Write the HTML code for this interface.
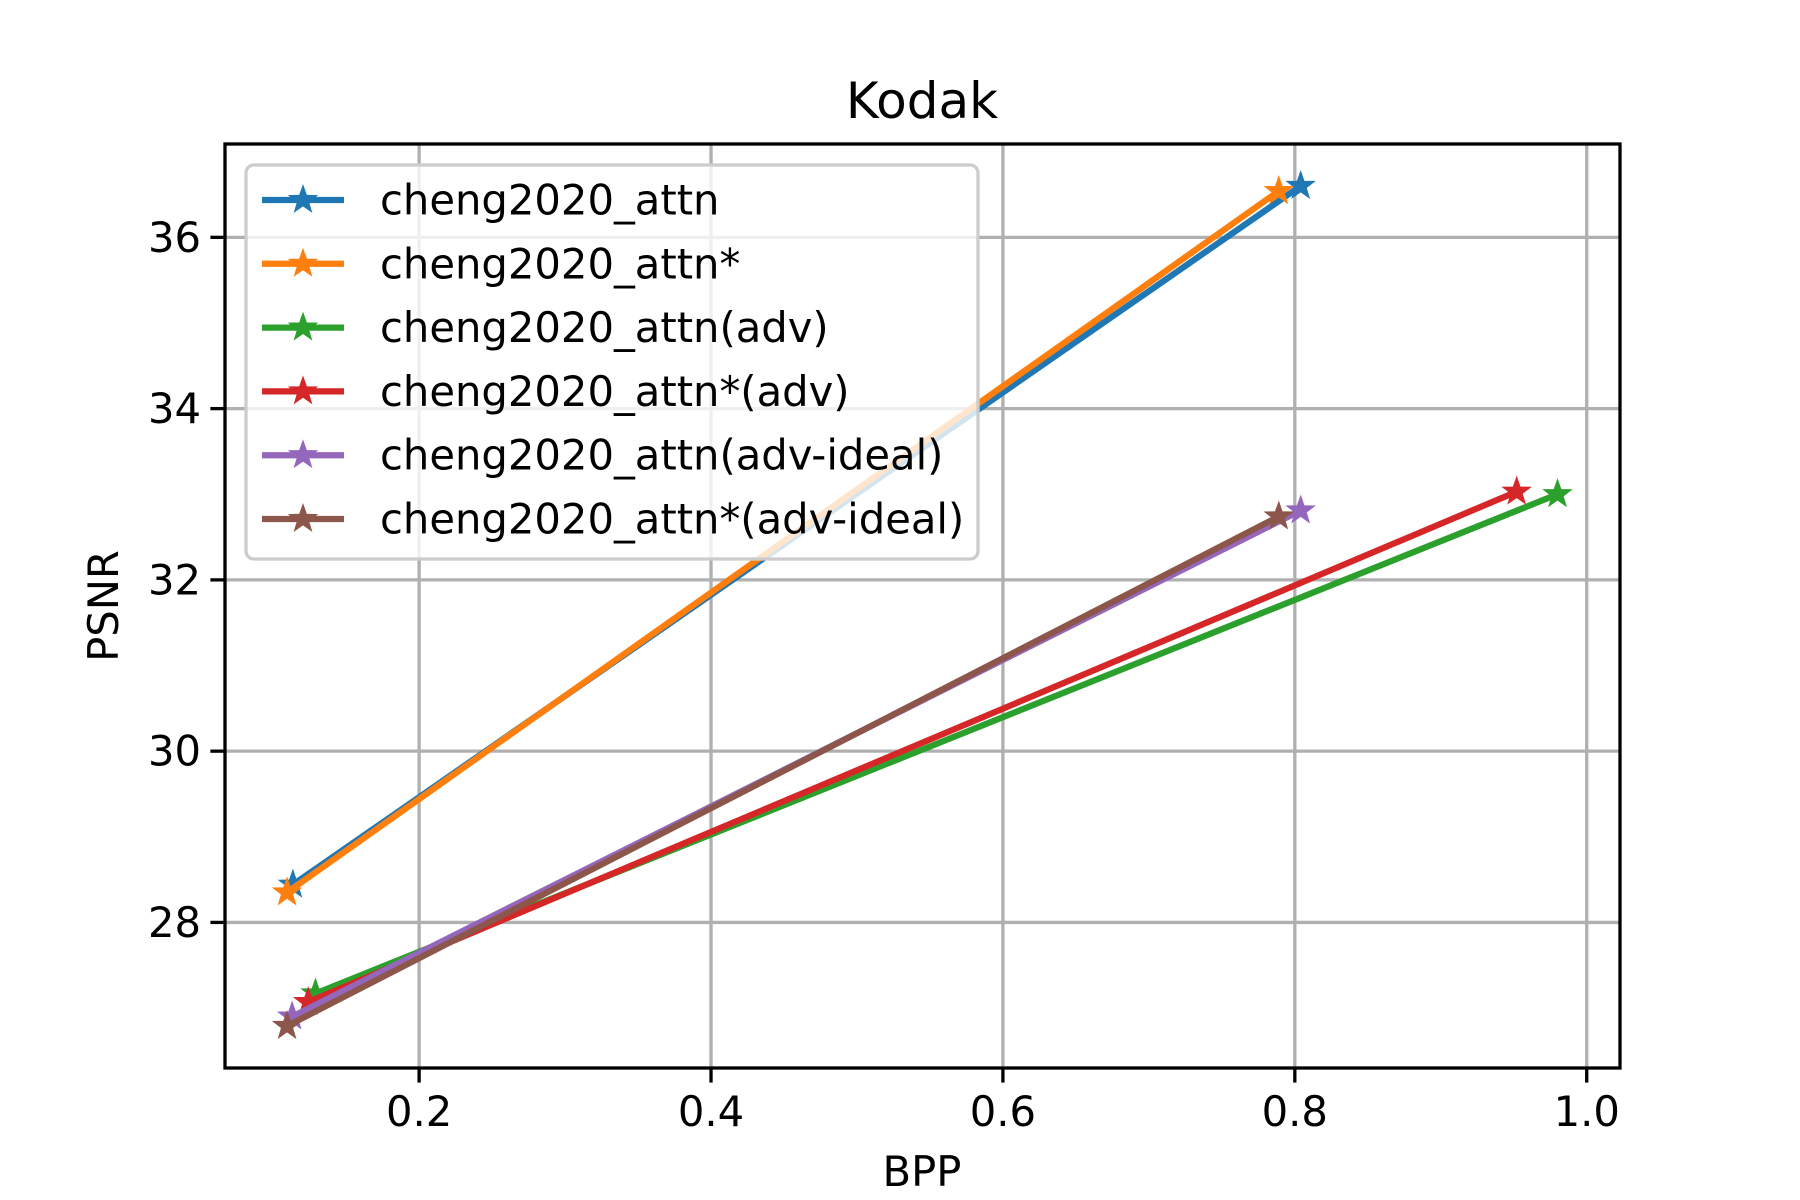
<!DOCTYPE html>
<html><head><meta charset="utf-8"><style>
html,body{margin:0;padding:0;background:#fff}
svg{display:block;font-family:"DejaVu Sans","Liberation Sans",sans-serif}
</style></head><body>
<svg id="chart" width="1800" height="1200" viewBox="0 0 1800 1200" xmlns="http://www.w3.org/2000/svg">
<rect width="1800" height="1200" fill="#fff"/>
<g id="grid"></g>
<g id="series"></g>
<rect x="225" y="144" width="1395" height="924" fill="none" stroke="#000" stroke-width="3.3"/>
<g id="ticks"></g>
<text x="922" y="118" font-size="50" text-anchor="middle">Kodak</text>
<text x="922" y="1186" font-size="41.7" text-anchor="middle">BPP</text>
<text transform="translate(118,606) rotate(-90)" font-size="41.7" text-anchor="middle">PSNR</text>
<g id="legend"></g>
</svg>
<script>
const seriesNames=["cheng2020_attn","cheng2020_attn*","cheng2020_attn(adv)","cheng2020_attn*(adv)","cheng2020_attn(adv-ideal)","cheng2020_attn*(adv-ideal)"];
const colors=["#1f77b4","#ff7f0e","#2ca02c","#d62728","#9467bd","#8c564b"];
const bppValues=[[0.1135,0.804],[0.1095,0.789],[0.129,0.98],[0.124,0.952],[0.113,0.804],[0.1095,0.789]];
const psnrValues=[[28.44,36.60],[28.35,36.54],[27.17,33.0],[27.07,33.03],[26.9,32.81],[26.79,32.74]];
const xTicks=[0.2,0.4,0.6,0.8,1.0];
const xTickLabels=["0.2","0.4","0.6","0.8","1.0"];
const yTicks=[28,30,32,34,36];
const yTickLabels=["28","30","32","34","36"];
const NS="http://www.w3.org/2000/svg";
const X0=225,X1=1620,Y0=144,Y1=1068;
const xMin=0.067,xMax=1.0228,yMin=26.30,yMax=37.09;
const xs=v=>X0+(v-xMin)/(xMax-xMin)*(X1-X0);
const ys=v=>Y1-(v-yMin)/(yMax-yMin)*(Y1-Y0);
function mk(tag,attrs,parent){const e=document.createElementNS(NS,tag);for(const k in attrs)e.setAttribute(k,attrs[k]);parent.appendChild(e);return e;}
function star(cx,cy,r){let p=[];for(let i=0;i<10;i++){const a=-Math.PI/2+i*Math.PI/5;const rr=i%2?r*0.4:r;p.push((cx+rr*Math.cos(a)).toFixed(1)+","+(cy+rr*Math.sin(a)).toFixed(1));}return p.join(" ");}
const grid=document.getElementById('grid'),ticks=document.getElementById('ticks'),sg=document.getElementById('series'),lg=document.getElementById('legend');
xTicks.forEach((t,i)=>{const x=xs(t);
const g=mk('line',{x1:x,x2:x,y1:Y0,y2:Y1,stroke:'#b0b0b0','stroke-width':3.3},grid);


const tk=mk('line',{x1:x,x2:x,y1:Y1,y2:Y1+14.6,stroke:'#000','stroke-width':3.3},ticks);


const tl=mk('text',{x:x,y:Y1+58,'font-size':41.7,'text-anchor':'middle'},ticks);tl.textContent=xTickLabels[i];

});
yTicks.forEach((t,i)=>{const y=ys(t);
const g=mk('line',{x1:X0,x2:X1,y1:y,y2:y,stroke:'#b0b0b0','stroke-width':3.3},grid);


const tk=mk('line',{x1:X0-14.6,x2:X0,y1:y,y2:y,stroke:'#000','stroke-width':3.3},ticks);


const tl=mk('text',{x:X0-24,y:y+14.5,'font-size':41.7,'text-anchor':'end'},ticks);tl.textContent=yTickLabels[i];

});
seriesNames.forEach((n,s)=>{
const pts=bppValues[s].map((b,i)=>xs(b)+","+ys(psnrValues[s][i])).join(" ");
const pl=mk('polyline',{points:pts,fill:'none',stroke:colors[s],'stroke-width':6.25,'stroke-linejoin':'round','stroke-linecap':'square'},sg);


bppValues[s].forEach((b,i)=>{const m=mk('polygon',{points:star(xs(b),ys(psnrValues[s][i]),13),fill:colors[s],stroke:colors[s],'stroke-width':2},sg);

});
});
const box=mk('rect',{x:246,y:165,width:732,height:394,rx:8,fill:'#fff','fill-opacity':0.8,stroke:'#ccc','stroke-width':3.3},lg);


seriesNames.forEach((n,s)=>{const y=200+s*63.8;
const l=mk('line',{x1:262,x2:344,y1:y,y2:y,stroke:colors[s],'stroke-width':6.25},lg);


const m=mk('polygon',{points:star(303,y,13),fill:colors[s],stroke:colors[s],'stroke-width':2},lg);


const t=mk('text',{x:380,y:y+14.5,'font-size':41.7},lg);t.textContent=n;

});
</script>
</body></html>
